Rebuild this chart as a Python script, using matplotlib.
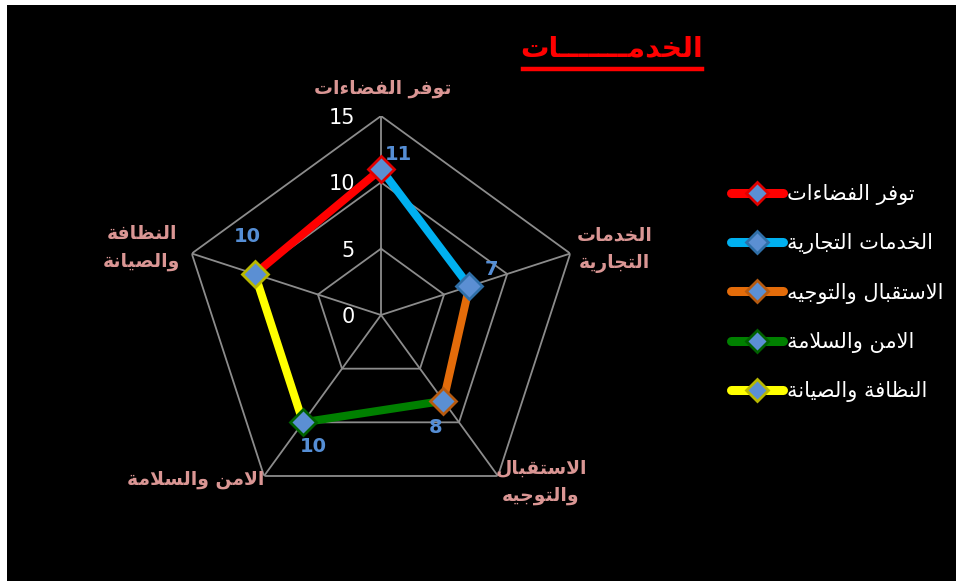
import numpy as np
import matplotlib
matplotlib.use("Agg")
import matplotlib.pyplot as plt
from matplotlib.lines import Line2D

# ---------------- data ----------------
categories = ["توفر الفضاءات", "الخدمات\nالتجارية", "الاستقبال\nوالتوجيه",
              "الامن والسلامة", "النظافة\nوالصيانة"]
series_names = ["توفر الفضاءات", "الخدمات التجارية", "الاستقبال والتوجيه",
                "الامن والسلامة", "النظافة والصيانة"]
values = [11, 7, 8, 10, 10]
r_ticks = [0, 5, 10, 15]
title_text = "الخدمـــــــات"

line_colors = ["#FF0000", "#00B0F0", "#E46C0A", "#008000", "#FFFF00"]
edge_colors = ["#E00000", "#2F6FA8", "#B65A10", "#006000", "#B8B800"]

# ------------- minimal Arabic shaping (presentation forms) -------------
FORMS = {
    '\u0621': ('\uFE80', None, None, None),
    '\u0627': ('\uFE8D', '\uFE8E', None, None),
    '\u0628': ('\uFE8F', '\uFE90', '\uFE91', '\uFE92'),
    '\u0629': ('\uFE93', '\uFE94', None, None),
    '\u062A': ('\uFE95', '\uFE96', '\uFE97', '\uFE98'),
    '\u062C': ('\uFE9D', '\uFE9E', '\uFE9F', '\uFEA0'),
    '\u062E': ('\uFEA5', '\uFEA6', '\uFEA7', '\uFEA8'),
    '\u062F': ('\uFEA9', '\uFEAA', None, None),
    '\u0631': ('\uFEAD', '\uFEAE', None, None),
    '\u0633': ('\uFEB1', '\uFEB2', '\uFEB3', '\uFEB4'),
    '\u0635': ('\uFEB9', '\uFEBA', '\uFEBB', '\uFEBC'),
    '\u0636': ('\uFEBD', '\uFEBE', '\uFEBF', '\uFEC0'),
    '\u0638': ('\uFEC5', '\uFEC6', '\uFEC7', '\uFEC8'),
    '\u0641': ('\uFED1', '\uFED2', '\uFED3', '\uFED4'),
    '\u0642': ('\uFED5', '\uFED6', '\uFED7', '\uFED8'),
    '\u0644': ('\uFEDD', '\uFEDE', '\uFEDF', '\uFEE0'),
    '\u0645': ('\uFEE1', '\uFEE2', '\uFEE3', '\uFEE4'),
    '\u0646': ('\uFEE5', '\uFEE6', '\uFEE7', '\uFEE8'),
    '\u0647': ('\uFEE9', '\uFEEA', '\uFEEB', '\uFEEC'),
    '\u0648': ('\uFEED', '\uFEEE', None, None),
    '\u064A': ('\uFEF1', '\uFEF2', '\uFEF3', '\uFEF4'),
    '\u0640': ('\u0640', '\u0640', '\u0640', '\u0640'),
    'LA': ('\uFEFB', '\uFEFC', None, None),
}


def _shape_line(s):
    toks = []
    i = 0
    while i < len(s):
        if s[i] == '\u0644' and i + 1 < len(s) and s[i + 1] == '\u0627':
            toks.append('LA')
            i += 2
        else:
            toks.append(s[i])
            i += 1

    def dual(t):
        return t in FORMS and FORMS[t][2] is not None

    def joinable(t):
        return t in FORMS and FORMS[t][1] is not None

    out = []
    for k, t in enumerate(toks):
        if t not in FORMS:
            out.append(t)
            continue
        pj = k > 0 and dual(toks[k - 1]) and joinable(t)
        nj = dual(t) and k + 1 < len(toks) and joinable(toks[k + 1])
        f = FORMS[t]
        if pj and nj:
            g = f[3]
        elif pj:
            g = f[1]
        elif nj:
            g = f[2]
        else:
            g = f[0]
        out.append(g)
    return ''.join(out)[::-1]


def ar(s):
    return '\n'.join(_shape_line(l) for l in s.split('\n'))


plt.rcParams['font.family'] = ['DejaVu Sans']

W, H = 956, 581
fig = plt.figure(figsize=(W / 100, H / 100), dpi=100, facecolor="white")
# black panel
bg = fig.add_axes([7 / W, 0, 1 - 7 / W, 1 - 5 / H])
bg.set_facecolor("black")
bg.set_xticks([]); bg.set_yticks([])
for s in bg.spines.values():
    s.set_visible(False)

cx, cy, R = 381, 315, 199
ax = fig.add_axes([(cx - R) / W, (H - cy - R) / H, 2 * R / W, 2 * R / H],
                  projection="polar")
ax.patch.set_alpha(0)
ax.set_theta_offset(np.pi / 2)
ax.set_theta_direction(-1)
ax.set_ylim(0, 15)
ax.grid(False)
ax.spines['polar'].set_visible(False)
ax.set_xticks([]); ax.set_yticks([])

n = len(categories)
theta = np.arange(n) * 2 * np.pi / n
tclosed = np.append(theta, theta[0])

grid_c = "#8C8C8C"
for rv in r_ticks[1:]:
    ax.plot(tclosed, [rv] * (n + 1), color=grid_c, lw=1.3, zorder=1)
for t in theta:
    ax.plot([t, t], [0, r_ticks[-1]], color=grid_c, lw=1.3, zorder=1)

# radial tick labels
for rv in r_ticks:
    ax.annotate(str(rv), xy=(0, rv), xytext=(-26, -2), textcoords="offset pixels",
                ha="right", va="center", color="white", fontsize=15)

# category labels
cat_off = [(2, 28), (44, 4), (43, -6), (-68, -4), (-50, 6)]
for t, lab, off in zip(theta, categories, cat_off):
    ax.annotate(ar(lab), xy=(t, r_ticks[-1]), xytext=off, textcoords="offset pixels",
                ha="center", va="center", color="#DA9694", fontsize=13.5,
                fontweight="bold", linespacing=1.55)

# series: each series k connects point k-1 to point k, marker at point k
handles = []
for k in range(n):
    j = (k - 1) % n
    ax.plot([theta[j], theta[k]], [values[j], values[k]], color=line_colors[k],
            lw=5.8, solid_capstyle="butt", zorder=3)
for k in range(n):
    ax.plot([theta[k]], [values[k]], marker="D", ms=13, mfc="#5B8FD3",
            mec=edge_colors[k], mew=2, ls="none", zorder=5)
    handles.append(Line2D([0], [0], color=line_colors[k], lw=6.5,
                          solid_capstyle="round", marker="D", ms=11,
                          mfc="#5B8FD3", mec=edge_colors[k], mew=2))

# data labels
lab_off = [(17, 15), (22, 17), (-8, -27), (10, -24), (-8, 38)]
for t, v, off in zip(theta, values, lab_off):
    ax.annotate(str(v), xy=(t, v), xytext=off, textcoords="offset pixels",
                ha="center", va="center", color="#558ED5", fontsize=14,
                fontweight="bold", zorder=6)

# legend
leg = fig.legend(handles, [ar(s) for s in series_names], loc="upper left",
                 bbox_to_anchor=(731 / W, 1 - 184 / H), frameon=False,
                 fontsize=15, labelcolor="white", handlelength=2.5,
                 handletextpad=0.2, labelspacing=1.36, numpoints=1,
                 borderpad=0, borderaxespad=0)

# title with underline
fig.text(612 / W, 1 - 48 / H, ar(title_text), ha="center", va="center",
         color="#FF0000", fontsize=20.5, fontweight="bold")
fig.add_artist(Line2D([523 / W, 702 / W], [1 - 69 / H, 1 - 69 / H],
                      color="#FF0000", lw=3.2, transform=fig.transFigure))

fig.savefig("out.png", dpi=100, facecolor="white")
